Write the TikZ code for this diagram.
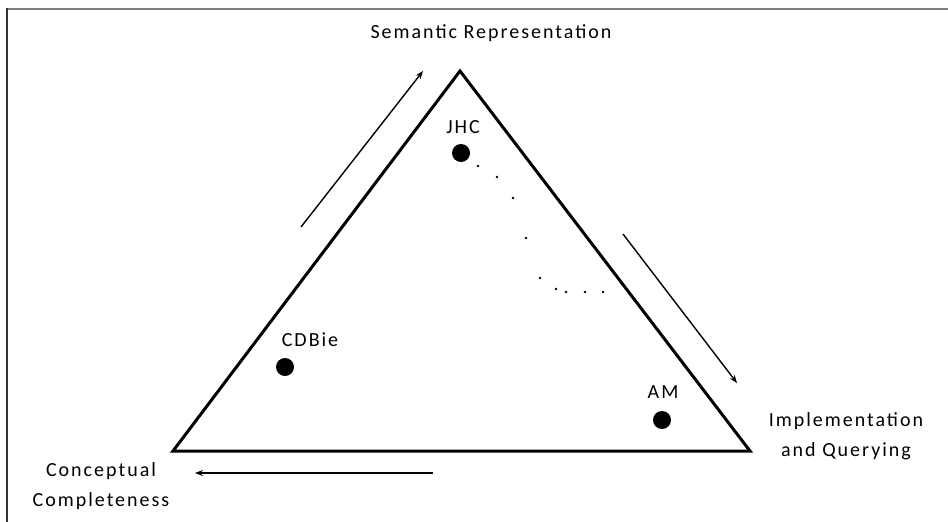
\documentclass[tikz,border=0pt]{standalone}
\usepackage{fontspec}
\setmainfont{Carlito}[LetterSpace=10]
\usetikzlibrary{arrows.meta}
\begin{document}
\begin{tikzpicture}[x=1pt,y=-1pt,
  tri/.style={line width=3pt,line join=miter},
  dir/.style={line width=1.4pt,-{Stealth[length=8pt,width=6pt]}},
  blob/.style={circle,fill=black,minimum size=18pt,inner sep=0pt},
  dotmark/.style={fill=black},
  lbl/.style={font=\fontsize{20}{30}\selectfont,inner sep=0pt,align=center}]
\useasboundingbox (0,0) rectangle (948,522);
\fill[white] (0,0) rectangle (948,522);
\draw[gray,line width=2pt] (7,8.5) -- (948,8.5);
\draw[black!80,line width=1.5pt] (7,8) -- (7,522);
% triangle
\coordinate (top) at (460,71);
\coordinate (bl) at (173,451);
\coordinate (br) at (750,451);
\draw[tri] (top) -- (br) -- (bl) -- cycle;
% arrows
\coordinate (a1s) at (301,227);
\coordinate (a1e) at (423,71);
\coordinate (a2s) at (623,234);
\coordinate (a2e) at (737,383);
\coordinate (a3s) at (433,473);
\coordinate (a3e) at (195,473);
\draw[dir] (a1s) -- (a1e);
\draw[dir] (a2s) -- (a2e);
\draw[dir] (a3s) -- (a3e);
% points
\node[blob] (jhc) at (461,153) {};
\node[blob] (cdb) at (285,367) {};
\node[blob] (am) at (662,420) {};
\node[lbl] (jhcl) at (463,127) {JHC};
\node[lbl] (cdbl) at (310,340) {CDBie};
\node[lbl] (aml) at (663,392) {AM};
% dotted curve
\foreach \p in {(478,166),(497,177),(513,198),(526,238),(540,278),(556,289),(566,292),(585,292),(603,292)}
  \fill[dotmark] \p circle (1.3pt);
% corner labels
\node[lbl] (sr) at (491,33) {Semantic Representation};
\node[lbl] (iq) at (846,436) {Implementation\\and Querying};
\node[lbl] (cc) at (101,486) {Conceptual\\Completeness};
\end{tikzpicture}
\end{document}
